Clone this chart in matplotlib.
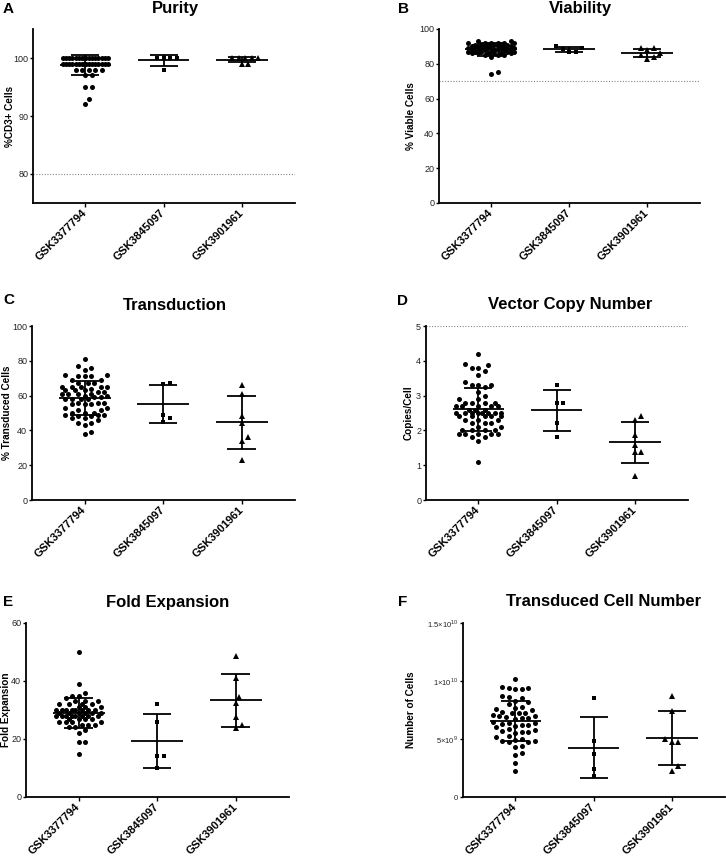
import numpy as np
import matplotlib
matplotlib.use("Agg")
import matplotlib.pyplot as plt

plt.rcParams["font.family"] = ["Liberation Sans", "DejaVu Sans"]
plt.rcParams["mathtext.fontset"] = "custom"
plt.rcParams["mathtext.rm"] = "Liberation Sans"

# Data

groups = ["GSK3377794", "GSK3845097", "GSK3901961"]

# A - Purity (%CD3+)
purity_1 = [100, 100, 100, 100, 100, 100, 100, 100, 100, 100,
            100, 100, 100, 100, 100, 100, 100, 100, 100, 100,
            99, 99, 99, 99, 99, 99, 99, 99, 99, 99, 99,
            99, 99, 99, 99, 99, 99, 99, 99, 99, 99, 99,
            98, 98, 98, 98, 98, 97, 97, 95, 95, 93, 92]
purity_2 = [100, 100, 100, 100, 98]
purity_3 = [100, 100, 100, 100, 100, 99, 99]

# B - Viability (%)
viab_1 = [93, 93, 92, 92, 92, 92, 92, 92, 91, 91, 91, 91, 91, 91,
          90, 90, 90, 90, 90, 90, 90, 89, 89, 89, 89, 89, 89, 89,
          88, 88, 88, 88, 88, 88, 88, 87, 87, 87, 87, 87, 87,
          86, 86, 86, 86, 86, 86, 85, 85, 85, 84, 75, 74]
viab_2 = [90, 89, 88.5, 87, 87]
viab_3 = [89, 89, 88, 86, 85, 84, 83]

# C - Transduction (%)
trans_1 = [81, 77, 76, 75, 72, 72, 71, 71, 71, 69, 69, 67, 67, 67,
           65, 65, 65, 65, 65, 64, 63, 63, 63, 62, 62,
           61, 61, 61, 61, 60, 60, 59, 59, 58, 58, 58, 58,
           56, 56, 56, 55, 55, 55, 53, 53, 52, 52,
           50, 50, 50, 49, 49, 49, 48, 48, 47, 47, 46,
           44, 44, 43, 39, 38]
trans_2 = [67, 66.5, 49, 47, 45]
trans_3 = [66, 61, 48.5, 44.5, 36, 34, 23]

# D - Vector copy number (copies/cell)
vcn_1 = [4.2, 3.9, 3.87, 3.8, 3.8, 3.7, 3.6, 3.4, 3.3, 3.3, 3.3, 3.25,
         3.1, 3.0, 2.9, 2.9, 2.8, 2.8, 2.8, 2.8, 2.7, 2.7, 2.7, 2.7, 2.7,
         2.6, 2.6, 2.6, 2.5, 2.5, 2.5, 2.5, 2.5, 2.5, 2.5, 2.5,
         2.4, 2.4, 2.4, 2.4, 2.4, 2.3, 2.3, 2.3, 2.2, 2.2, 2.2, 2.1, 2.1,
         2.0, 2.0, 2.0, 2.0, 1.9, 1.9, 1.9, 1.9, 1.9, 1.8, 1.8, 1.7, 1.1]
vcn_2 = [3.3, 2.8, 2.8, 2.2, 1.8]
vcn_3 = [2.4, 2.3, 1.87, 1.59, 1.38, 1.38, 0.68]

# E - Fold expansion
fold_1 = [50, 39, 36, 35, 35, 34, 33, 33, 33, 32, 32, 32, 32, 31, 31, 31,
          30, 30, 30, 30, 30, 30, 30, 30, 29, 29, 29, 29, 29, 29,
          28, 28, 28, 28, 28, 28, 28, 28, 27, 27, 27, 27, 26, 26, 26, 26,
          25, 25, 25, 24, 24, 23, 22, 19, 19, 15]
fold_2 = [32, 26, 14, 14, 10]
fold_3 = [48.7, 40.9, 34.6, 32.5, 27.7, 24.9, 23.7]

# F - Transduced cell number (x1e9 cells)
cells_1 = [10.2, 9.5, 9.4, 9.4, 9.3, 9.3, 8.7, 8.6, 8.5, 8.3, 8.2, 8.0,
           7.8, 7.7, 7.6, 7.5, 7.3, 7.2, 7.2, 7.2, 7.1, 7.0, 7.0,
           6.9, 6.8, 6.8, 6.7, 6.5, 6.4, 6.4, 6.3, 6.2, 6.2, 6.1,
           6.0, 5.9, 5.8, 5.7, 5.6, 5.6, 5.5, 5.3, 5.2, 5.0,
           4.9, 4.8, 4.8, 4.7, 4.7, 4.4, 4.3, 3.8, 3.6, 2.9, 2.2]
cells_2 = [8.5, 4.87, 3.7, 2.4, 1.83]
cells_3 = [8.73, 7.4, 5.0, 4.75, 4.75, 2.63, 2.26]

W, H = 726, 857
fig = plt.figure(figsize=(W / 100, H / 100), dpi=100)


def add_ax(left, top, right, bottom):
    return fig.add_axes([left / W, 1 - bottom / H, (right - left) / W, (bottom - top) / H])


def swarm_offsets(ax, x0, vals, d=6.5, max_half=25.0):
    # simple beeswarm in pixel space, capped width (points overlap past the cap)
    pts = ax.transData.transform(np.column_stack([np.full(len(vals), x0), vals]))
    ypx = pts[:, 1]
    step = d / 2
    cands = [0.0]
    for j in range(1, int(max_half // step) + 1):
        cands += [j * step, -j * step]
    cands = np.array(cands)
    offs = np.zeros(len(vals))
    px, py = [], []
    for i in np.argsort(ypx):
        y = ypx[i]
        if px:
            PX, PY = np.array(px), np.array(py)
            dist = np.sqrt((cands[:, None] - PX[None, :]) ** 2 + (y - PY[None, :]) ** 2).min(axis=1)
            ok = np.where(dist >= d)[0]
            c = cands[ok[0]] if len(ok) else cands[np.argmax(dist)]
        else:
            c = 0.0
        offs[i] = c
        px.append(c)
        py.append(y)
    ppu = ax.transData.transform([(1, 0)])[0, 0] - ax.transData.transform([(0, 0)])[0, 0]
    return offs / ppu


markers = [("o", 3.6), ("s", 3.4), ("^", 3.7)]


def panel(box, data, ylim, yticks, yticklabels, title, letter, title_xy, letter_xy,
          ylabel, ylabel_x, ref=None, scale=1.0):
    ax = add_ax(*box)
    ax.set_xlim(-0.67, 2.68)
    ax.set_ylim(*ylim)
    for sp in ["top", "right"]:
        ax.spines[sp].set_visible(False)
    for sp in ["left", "bottom"]:
        ax.spines[sp].set_linewidth(1.3)
    ax.set_yticks(yticks)
    ax.set_yticklabels(yticklabels, fontsize=6.5 if scale == 1.0 else 5.5, color="#222222")
    ax.set_xticks(range(3))
    ax.set_xticklabels(groups, rotation=45, ha="right", va="center", rotation_mode="anchor",
                       fontsize=8, fontweight="bold")
    ax.tick_params(axis="y", length=2.5, width=1.0, pad=1)
    ax.tick_params(axis="x", length=3, width=1.0, pad=3)
    if ref is not None:
        ax.axhline(ref, color="#888888", lw=0.8, linestyle=(0, (1, 1.5)), zorder=1)
    for k, vals in enumerate(data):
        v = np.asarray(vals) * scale
        m, ms = markers[k]
        offs = swarm_offsets(ax, k, v)
        ax.plot(k + offs, v, linestyle="none", marker=m, ms=ms, color="black",
                mew=0, zorder=3, clip_on=False)
        mean, sd = v.mean(), v.std(ddof=1)
        ax.hlines(mean, k - 0.33, k + 0.33, color="black", lw=1.3, zorder=4)
        ax.hlines([mean - sd, mean + sd], k - 0.18, k + 0.18, color="black", lw=1.3, zorder=4)
        ax.vlines(k, mean - sd, mean + sd, color="black", lw=1.3, zorder=4)
    fig.text(title_xy[0] / W, 1 - title_xy[1] / H, title, ha="center", va="center",
             fontsize=12, fontweight="bold")
    fig.text(letter_xy[0] / W, 1 - letter_xy[1] / H, letter, ha="left", va="center",
             fontsize=11, fontweight="bold")
    fig.text(ylabel_x / W, 1 - (box[1] + box[3]) / 2 / H, ylabel, ha="center", va="center",
             rotation=90, fontsize=7.2, fontweight="bold")
    return ax


panel((33, 29, 295, 203), [purity_1, purity_2, purity_3], (75, 105), [80, 90, 100],
      ["80", "90", "100"], "Purity", "A", (175, 9), (3, 9), "%CD3+ Cells", 10, ref=80)
panel((439, 29, 700, 203), [viab_1, viab_2, viab_3], (0, 100), [0, 20, 40, 60, 80, 100],
      ["0", "20", "40", "60", "80", "100"], "Viability", "B", (580, 9), (398, 9),
      "% Viable Cells", 411, ref=70)
panel((32, 326, 295, 500), [trans_1, trans_2, trans_3], (0, 100), [0, 20, 40, 60, 80, 100],
      ["0", "20", "40", "60", "80", "100"], "Transduction", "C", (175, 305), (3, 300),
      "% Transduced Cells", 7)
panel((426, 326, 688, 500), [vcn_1, vcn_2, vcn_3], (0, 5), [0, 1, 2, 3, 4, 5],
      ["0", "1", "2", "3", "4", "5"], "Vector Copy Number", "D", (570, 305), (397, 301),
      "Copies/Cell", 409, ref=5)
panel((26, 623, 289, 797), [fold_1, fold_2, fold_3], (0, 60), [0, 20, 40, 60],
      ["0", "20", "40", "60"], "Fold Expansion", "E", (168, 602), (3, 602),
      "Fold Expansion", 6)
panel((463, 623, 725, 797), [cells_1, cells_2, cells_3], (0, 1.5e10), [0, 5e9, 1e10, 1.5e10],
      ["0", r"$5{\times}10^{9}$", r"$1{\times}10^{10}$", r"$1.5{\times}10^{10}$"],
      "Transduced Cell Number", "F", (604, 602), (398, 602), "Number of Cells", 411,
      scale=1e9)

fig.savefig("out.png", dpi=100)
